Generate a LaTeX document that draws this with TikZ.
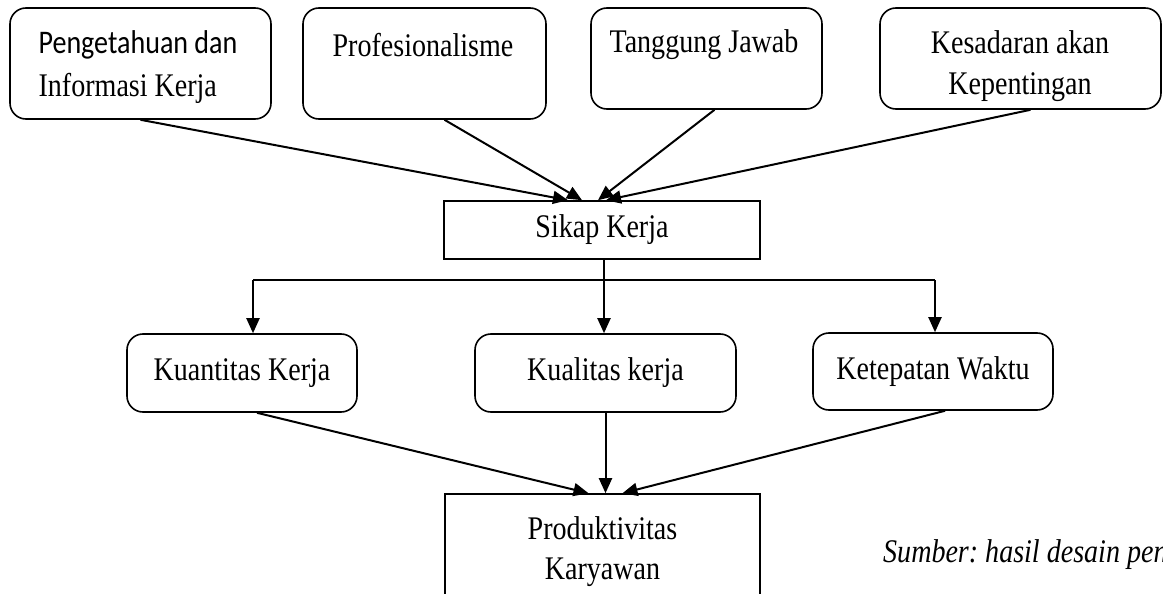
\documentclass[tikz,border=0pt]{standalone}
\usepackage{fontspec}
\setmainfont{Liberation Serif}[FakeStretch=0.85]
\newfontfamily\calfont{Carlito}[FakeStretch=0.85]
\usetikzlibrary{arrows.meta,calc}
\begin{document}
\begin{tikzpicture}[x=1pt,y=-1pt,
  txt/.style={font=\fontsize{33}{43}\selectfont, inner sep=0pt, align=center},
  rbox/.style={draw, line width=1.6pt, rounded corners=16pt, inner sep=0pt, align=center, txt},
  sbox/.style={draw, line width=1.6pt, inner sep=0pt, align=center, txt},
  conn/.style={line width=2pt, -{Triangle[length=15pt,width=13pt]}},
  plain/.style={line width=2pt}]
\useasboundingbox (0,0) rectangle (1163,594);
\clip (0,0) rectangle (1163,594);
\frenchspacing
% top row
\node[rbox, minimum width=261pt, minimum height=111pt] (b1) at (140.5,63.5) {};
\node[txt, align=left] (t1) at (138,67) {{\calfont Pengetahuan dan}\\Informasi Kerja};
\node[rbox, minimum width=243pt, minimum height=111pt] (b2) at (424.5,63.5) {};
\node[txt] (t2) at (423,45) {Profesionalisme};
\node[rbox, minimum width=231pt, minimum height=101pt] (b3) at (706.5,58.5) {};
\node[txt] (t3) at (704,45) {Tanggung Jawab};
\node[rbox, minimum width=281pt, minimum height=101pt] (b4) at (1020.5,58.5) {};
\node[txt, font=\fontsize{33}{41}\selectfont] (t4) at (1020,66) {Kesadaran akan\\Kepentingan};
% middle
\node[sbox, minimum width=316pt, minimum height=58pt] (sikap) at (602,230) {Sikap Kerja};
% third row
\node[rbox, minimum width=230pt, minimum height=78pt] (kuant) at (242,373) {Kuantitas Kerja};
\node[rbox, minimum width=261pt, minimum height=78pt] (kual) at (605.5,373) {Kualitas kerja};
\node[rbox, minimum width=240pt, minimum height=77pt] (ketep) at (933,371.5) {Ketepatan Waktu};
% bottom
\node[sbox, minimum width=315pt, minimum height=132pt] (prod) at (602.5,560) {};
\node[txt, font=\fontsize{33}{40}\selectfont] (prodtext) at (602.5,552) {Produktivitas\\Karyawan};
\node[txt, anchor=base west, font=\fontsize{33}{43}\selectfont\itshape] (src) at (883,562) {Sumber: hasil desain penulis};
% connectors top -> sikap
\draw[conn] (b1.south) -- ($(sikap.north)+(-34,0)$);
\draw[conn] ($(b2.south)+(20,0)$) -- ($(sikap.north)+(-20,0)$);
\draw[conn] ($(b3.south)+(8,0)$) -- ($(sikap.north)+(-4,0)$);
\draw[conn] ($(b4.south)+(10,0)$) -- ($(sikap.north)+(4,0)$);
% sikap -> third row
\coordinate (jl) at (253,280);
\coordinate (jr) at (935,280);
\coordinate (sdown) at ($(sikap.south)+(2,0)$);
\draw[plain] (jl) -- (jr);
\draw[conn] (sdown) -- (sdown |- kual.north);
\draw[conn] (jl) -- (jl |- kuant.north);
\draw[conn] (jr) -- (jr |- ketep.north);
% third row -> prod
\draw[conn] ($(kuant.south)+(15,0)$) -- ($(prod.north)+(-14,0)$);
\draw[conn] (kual.south) -- (kual.south |- prod.north);
\draw[conn] ($(ketep.south)+(12,0)$) -- ($(prod.north)+(20,0)$);
\end{tikzpicture}
\end{document}
